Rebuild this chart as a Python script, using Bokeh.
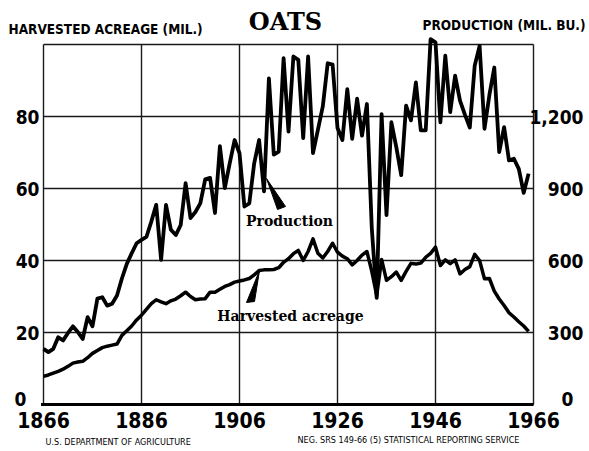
from bokeh.plotting import figure
from bokeh.models import Range1d, Label
from bokeh.embed import file_html
from bokeh.resources import INLINE

# ---- data ----
first_year = 1866
acreage = [  # harvested acreage, million acres
    7.8, 8.2, 8.7, 9.2, 9.8, 10.6, 11.5, 11.8, 12.0, 13.0,        # 1866-1875
    14.2, 15.0, 15.8, 16.2, 16.5, 16.8, 19.2, 20.5, 21.8, 23.5,   # 1876-1885
    24.8, 26.4, 28.0, 29.1, 28.5, 28.0, 28.8, 29.3, 30.2, 31.2,   # 1886-1895
    30.0, 29.1, 29.3, 29.4, 31.2, 31.2, 32.0, 32.8, 33.3, 34.0,   # 1896-1905
    34.3, 34.6, 35.0, 36.0, 37.2, 37.4, 37.4, 37.5, 38.0, 39.5,   # 1906-1915
    40.5, 41.9, 42.8, 40.0, 42.5, 46.0, 42.0, 40.7, 42.5, 44.8,   # 1916-1925
    42.3, 41.2, 40.5, 38.8, 40.0, 41.5, 42.5, 37.0, 30.3, 40.3,   # 1926-1935
    34.5, 35.5, 36.8, 34.5, 37.0, 39.2, 39.0, 39.3, 40.9, 42.0,   # 1936-1945
    43.7, 38.6, 40.2, 39.1, 40.2, 36.3, 37.5, 38.3, 41.7, 40.0,   # 1946-1955
    34.9, 35.0, 31.5, 29.3, 27.5, 25.5, 24.3, 23.0, 21.8, 20.3,   # 1956-1965
]
production = [  # million bushels
    232, 218, 232, 280, 267, 298, 326, 302, 273, 364,             # 1866-1875
    326, 441, 447, 412, 420, 454, 525, 586, 630, 672,             # 1876-1885
    686, 698, 762, 832, 603, 832, 728, 706, 748, 922,             # 1886-1895
    777, 802, 838, 938, 944, 798, 1076, 902, 1005, 1102,          # 1896-1905
    1047, 825, 838, 1005, 1102, 888, 1359, 1041, 1054, 1443,      # 1906-1915
    1137, 1450, 1436, 1110, 1450, 1047, 1144, 1242, 1422, 1416,   # 1916-1925
    1152, 1102, 1314, 1107, 1274, 1120, 1252, 734, 444, 1210,     # 1926-1935
    789, 1176, 1072, 956, 1245, 1184, 1342, 1142, 1142, 1522,     # 1936-1945
    1509, 1176, 1454, 1218, 1370, 1266, 1208, 1154, 1412, 1494,   # 1946-1955
    1149, 1290, 1404, 1052, 1156, 1017, 1024, 982, 882, 962,      # 1956-1965
]
years = list(range(first_year, first_year + len(acreage)))
x_ticks = [1866, 1886, 1906, 1926, 1946, 1966]
left_ticks = [0, 20, 40, 60, 80, 100]
left_labels = ["0", "20", "40", "60", "80"]
right_labels = ["0", "300", "600", "900", "1,200"]

# ---- layout: the plot frame covers the whole canvas ----
W, H = 589, 451
x0_px, y0_px = 43, 404          # where (1866, 0) sits on the canvas
px_per_year = 4.9
px_per_unit = 3.6

def X(px):
    return 1866 + (px - x0_px) / px_per_year

def Y(py):
    return (y0_px - py) / px_per_unit

p = figure(width=W, height=H, output_backend="svg", toolbar_location=None,
           x_axis_type=None, y_axis_type=None,
           x_range=Range1d(X(0), X(W)), y_range=Range1d(Y(H), Y(0)),
           min_border=0, min_border_left=0, min_border_right=0,
           min_border_top=0, min_border_bottom=0)
p.extra_y_ranges = {"prod": Range1d(Y(H) * 15, Y(0) * 15)}
p.outline_line_color = None
p.background_fill_color = "white"
p.border_fill_color = "white"

grid_color = "#1a1a1a"
# vertical grid / side borders
p.segment(x0=x_ticks, y0=[0] * len(x_ticks), x1=x_ticks, y1=[100] * len(x_ticks),
          line_color=grid_color, line_width=1.4)
# horizontal grid / top border
p.segment(x0=[1866] * len(left_ticks), y0=left_ticks, x1=[1966] * len(left_ticks),
          y1=left_ticks, line_color=grid_color, line_width=1.4)
# bottom axis (thicker)
p.segment(x0=[1865.5], y0=[0], x1=[1966], y1=[0], line_color="black", line_width=3)

# data lines
p.line(years, acreage, line_color="black", line_width=3.5, line_join="round")
p.line(years, production, y_range_name="prod", line_color="black", line_width=3.8,
       line_join="round")

# pointers
p.patch([X(266), X(277), X(285)], [Y(178), Y(209), Y(206)], color="black")
p.patch([X(259), X(246), X(254)], [Y(270), Y(302), Y(301)], color="black")

cond = "'DejaVu Sans Condensed', 'Roboto Condensed', Roboto, sans-serif"
serif = "DejaVu Serif"

def lab(x, y, text, size, font=cond, align="center", style="bold"):
    p.add_layout(Label(x=x, y=y, text=text, text_font=font, text_font_size=size,
                       text_font_style=style, text_align=align, text_baseline="middle",
                       text_color="black"))

# titles
lab(X(285), Y(21), "OATS", "24px", font=serif)
lab(X(8), Y(28), "HARVESTED ACREAGE (MIL.)", "13.5px", align="left")
lab(X(585), Y(24), "PRODUCTION (MIL. BU.)", "13.5px", align="right")

# x tick labels
for t in x_ticks:
    lab(t, Y(419), str(t), "21px")

# left tick labels
for v, s in zip(left_ticks, left_labels):
    if v == 0:
        lab(X(20), Y(398), s, "19px")
    else:
        lab(X(39), v, s, "19px", align="right")

# right tick labels
for v, s in zip(left_ticks, right_labels):
    if v == 0:
        lab(X(567), Y(398), s, "19px")
    else:
        lab(X(583), v, s, "19px", align="right")

# in-chart annotations
lab(X(289), Y(220), "Production", "14px", font=serif)
lab(X(290), Y(315), "Harvested acreage", "14px", font=serif)

# footer
lab(X(45), Y(441), "U.S. DEPARTMENT OF AGRICULTURE", "9px", align="left", style="normal")
lab(X(297), Y(439), "NEG. SRS 149-66 (5)   STATISTICAL REPORTING SERVICE", "9px",
    align="left", style="normal")

open("out.html", "w").write(file_html(p, INLINE))
